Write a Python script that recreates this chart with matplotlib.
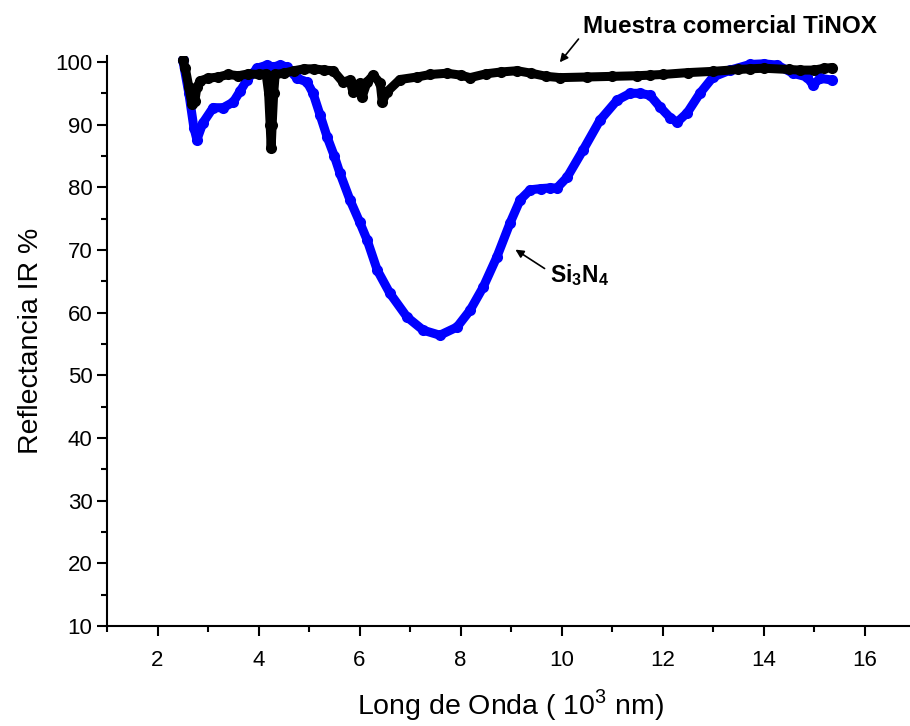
import numpy as np
import matplotlib
matplotlib.use("Agg")
import matplotlib.pyplot as plt

# Si3N4 coating (blue)
si_x = [2.50, 2.62, 2.72, 2.78, 2.90, 3.10, 3.30, 3.50, 3.64, 3.77, 3.97, 4.17, 4.29,
        4.43, 4.56, 4.76, 4.96, 5.08, 5.22, 5.36, 5.50, 5.61, 5.81, 6.00, 6.15, 6.35,
        6.60, 6.94, 7.26, 7.59, 7.93, 8.19, 8.45, 8.72, 8.98, 9.18, 9.38, 9.60, 9.77,
        9.91, 10.11, 10.43, 10.76, 11.10, 11.36, 11.55, 11.75, 11.95, 12.15, 12.29,
        12.49, 12.74, 13.00, 13.34, 13.73, 14.00, 14.27, 14.58, 14.86, 14.98, 15.12,
        15.36]
si_y = [100.3, 95.0, 89.5, 87.6, 90.3, 92.7, 92.7, 93.6, 95.4, 97.1, 99.0, 99.5, 99.2,
        99.5, 99.2, 97.4, 96.8, 95.0, 91.5, 88.0, 85.0, 82.3, 78.0, 74.5, 71.6, 66.8,
        63.1, 59.3, 57.2, 56.4, 57.7, 60.4, 64.1, 68.9, 74.3, 78.0, 79.6, 79.8, 79.9,
        79.9, 81.6, 86.0, 90.7, 93.9, 95.0, 95.0, 94.7, 92.8, 91.1, 90.4,
        91.9, 95.0, 97.6, 98.7, 99.6, 99.7, 99.5, 98.2, 97.6, 96.3, 97.4,
        97.1]

# commercial TiNOX sample (black)
ti_x = [2.50, 2.55, 2.62, 2.68, 2.74, 2.78, 2.85, 3.00, 3.20, 3.40, 3.60, 3.80, 4.00,
        4.15, 4.20, 4.23, 4.25, 4.27, 4.30, 4.33, 4.50, 4.70, 4.90, 5.10, 5.30, 5.48,
        5.67, 5.81, 5.87, 6.00, 6.05, 6.15, 6.27, 6.41, 6.45, 6.54, 6.80, 7.14, 7.40,
        7.73, 8.00, 8.19, 8.50, 8.80, 9.12, 9.40, 9.70, 9.97, 10.50, 11.00, 11.50,
        11.75, 12.00, 12.50, 13.00, 13.50, 13.73, 14.00, 14.50, 14.72, 15.00, 15.20,
        15.36]
ti_y = [100.3, 99.0, 96.0, 93.3, 93.8, 96.0, 97.0, 97.4, 97.6, 98.0, 97.8, 98.1, 98.0,
        98.1, 95.0, 90.0, 86.3, 90.0, 95.0, 98.0, 98.2, 98.6, 98.9, 98.9, 98.7, 98.6,
        96.8, 97.1, 95.2, 96.6, 94.4, 96.8, 97.9, 96.6, 93.6, 95.2, 97.2, 97.6, 98.0,
        98.2, 97.9, 97.5, 98.1, 98.4, 98.6, 98.2, 97.7, 97.5, 97.6, 97.7, 97.8,
        97.9, 98.0, 98.3, 98.5, 98.8, 98.9, 99.0, 98.8, 98.7, 98.7, 99.0,
        99.1]

plt.rcParams['font.family'] = ['Liberation Sans', 'DejaVu Sans']
plt.rcParams['mathtext.fontset'] = 'custom'
plt.rcParams['mathtext.rm'] = 'Liberation Sans'
plt.rcParams['mathtext.bf'] = 'Liberation Sans:bold'

fig = plt.figure(figsize=(9.1, 7.26), dpi=100)
ax = fig.add_axes([0.1176, 0.1377, 0.888, 0.7856])

ax.plot(si_x, si_y, color='#0000ff', linewidth=6.5, marker='o', markersize=8,
        markeredgewidth=0, solid_capstyle='round', solid_joinstyle='round')
ax.plot(ti_x, ti_y, color='black', linewidth=6.5, marker='o', markersize=8,
        markeredgewidth=0, solid_capstyle='round', solid_joinstyle='round')

ax.set_xlim(1, 17)
ax.set_ylim(10, 101)
ax.set_xticks(np.arange(2, 17, 2))
ax.set_xticks(np.arange(1, 17, 1), minor=True)
ax.set_yticks(np.arange(10, 101, 10))
ax.set_yticks(np.arange(15, 101, 10), minor=True)

for s in ['top', 'right']:
    ax.spines[s].set_visible(False)
for s in ['left', 'bottom']:
    ax.spines[s].set_linewidth(1.5)

ax.tick_params(which='major', direction='out', length=7, width=1.5, labelsize=16)
ax.tick_params(which='minor', direction='out', length=4, width=1.5)
ax.tick_params(axis='x', pad=10)

ax.set_xlabel('Long de Onda ( 10$^3$ nm)', fontsize=20.5, labelpad=12)
ax.set_ylabel('Reflectancia IR %', fontsize=20.5, labelpad=8)

ax.text(10.43, 105.6, 'Muestra comercial TiNOX', fontsize=17.5, fontweight='bold',
        ha='left', va='center', clip_on=False)
ax.annotate('', xy=(9.93, 99.6), xytext=(10.37, 104.0), annotation_clip=False,
            arrowprops=dict(arrowstyle='-|>', color='black', lw=1.2, mutation_scale=12))

ax.text(9.77, 66.0, r'$\mathbf{Si_3N_4}$', fontsize=16.5, ha='left', va='center')
ax.annotate('', xy=(9.04, 70.3), xytext=(9.71, 66.8),
            arrowprops=dict(arrowstyle='-|>', color='black', lw=1.2, mutation_scale=12))

fig.savefig('out.png', dpi=100)
